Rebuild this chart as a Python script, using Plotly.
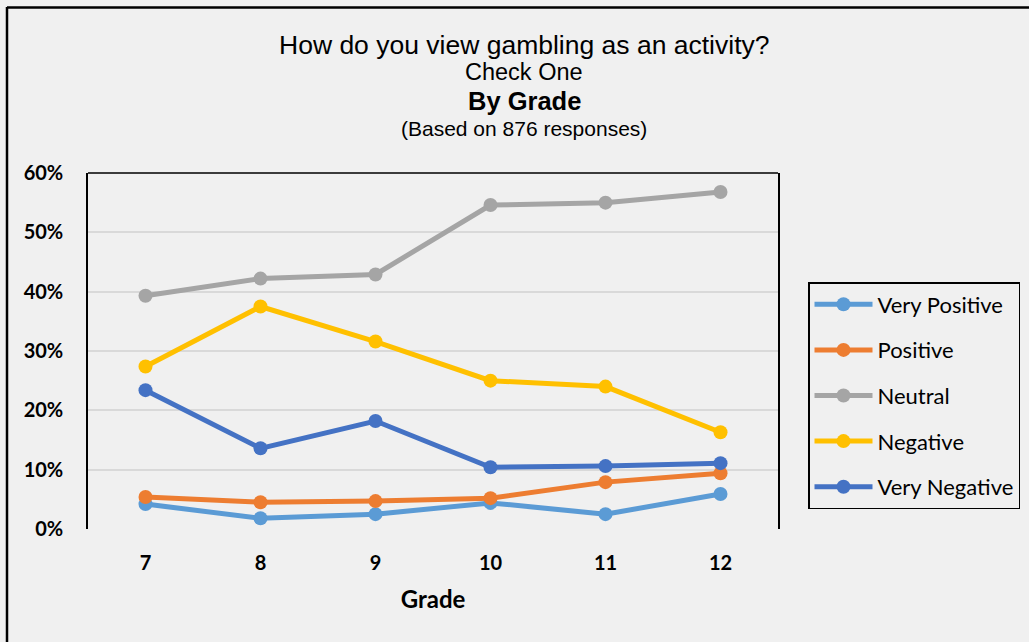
import plotly.graph_objects as go

grades = ["7", "8", "9", "10", "11", "12"]
series_names = ["Very Positive", "Positive", "Neutral", "Negative", "Very Negative"]
very_positive = [4.2, 1.8, 2.5, 4.4, 2.5, 5.9]
positive = [5.4, 4.5, 4.7, 5.2, 7.9, 9.4]
neutral = [39.3, 42.2, 42.9, 54.6, 55.0, 56.8]
negative = [27.4, 37.5, 31.6, 25.0, 24.0, 16.3]
very_negative = [23.4, 13.6, 18.2, 10.4, 10.6, 11.1]
colors = ["#5b9bd5", "#ed7d31", "#a5a5a5", "#ffc000", "#4472c4"]
y_ticks = [0, 10, 20, 30, 40, 50, 60]
y_tick_labels = ["0%", "10%", "20%", "30%", "40%", "50%", "60%"]

W, H = 1029, 642
L, T = 88, 173
PR, PB = 778, 529
R, B = W - PR, H - PB
pw, ph = PR - L, PB - T

def px_x(x):
    return (x - L) / pw

def px_y(y):
    return 1 + (T - y) / ph

fig = go.Figure()
for i, (name, vals) in enumerate(zip(series_names,
                                     [very_positive, positive, neutral, negative, very_negative])):
    fig.add_trace(go.Scatter(
        x=grades, y=vals, name=name, mode="lines+markers",
        line=dict(color=colors[i], width=5),
        marker=dict(color=colors[i], size=14),
        legendgroup=name,
    ))

fig.update_layout(
    width=W, height=H,
    margin=dict(l=L, r=R, t=T, b=B, pad=0, autoexpand=False),
    paper_bgcolor="#f0f0f0", plot_bgcolor="#f0f0f0",
    showlegend=True,
    legend=dict(
        xref="container", yref="container",
        x=808 / W, y=1 - 282 / H, xanchor="left", yanchor="top",
        bordercolor="black", borderwidth=1.5, bgcolor="#f0f0f0",
        font=dict(family="Lato", size=22, color="black"),
        traceorder="grouped", tracegroupgap=14,
        itemwidth=58,
    ),
    xaxis=dict(
        type="category", range=[-0.5, 5.5], showgrid=False, showline=False,
        ticks="", zeroline=False,
        tickfont=dict(family="Lato", size=20, color="black", weight="bold"),
        ticklabelstandoff=20,
        title=dict(text="Grade", font=dict(family="Lato", size=24, color="black", weight="bold"),
                   standoff=18),
    ),
    yaxis=dict(
        range=[0, 60], tickvals=y_ticks, ticktext=y_tick_labels,
        showgrid=True, gridcolor="#d9d9d9", gridwidth=1.5,
        showline=True, mirror=True, linecolor="black", linewidth=1.5,
        zeroline=False, ticks="",
        tickfont=dict(family="Lato", size=20, color="black", weight="bold"),
        ticklabelstandoff=19,
    ),
)

# plot area top border and outer chart border
fig.add_shape(type="line", xref="paper", yref="paper", x0=0, x1=1, y0=1, y1=1,
              line=dict(color="black", width=1.5))
fig.add_shape(type="line", xref="paper", yref="paper", x0=px_x(7), x1=px_x(7), y0=px_y(7), y1=px_y(660),
              line=dict(color="black", width=2.5))
fig.add_shape(type="line", xref="paper", yref="paper", x0=px_x(7), x1=px_x(1040), y0=px_y(7.5), y1=px_y(7.5),
              line=dict(color="black", width=2.5))

cx = px_x(524)
titles = [
    ("How do you view gambling as an activity?", 45, 26.5, "normal"),
    ("Check One", 72, 23.5, "normal"),
    ("By Grade", 101, 25.5, "bold"),
    ("(Based on 876 responses)", 128, 21, "normal"),
]
for text, ypix, size, weight in titles:
    fig.add_annotation(text=text, x=cx, y=px_y(ypix), xref="paper", yref="paper",
                       xanchor="center", yanchor="middle", showarrow=False,
                       font=dict(family="Liberation Sans", size=size, color="black", weight=weight))

fig.write_html(
    "out.html",
    config={"displayModeBar": False},
    post_script="document.body.style.margin='0';document.body.style.overflow='hidden';"
                "document.body.style.background='#f0f0f0';",
)
